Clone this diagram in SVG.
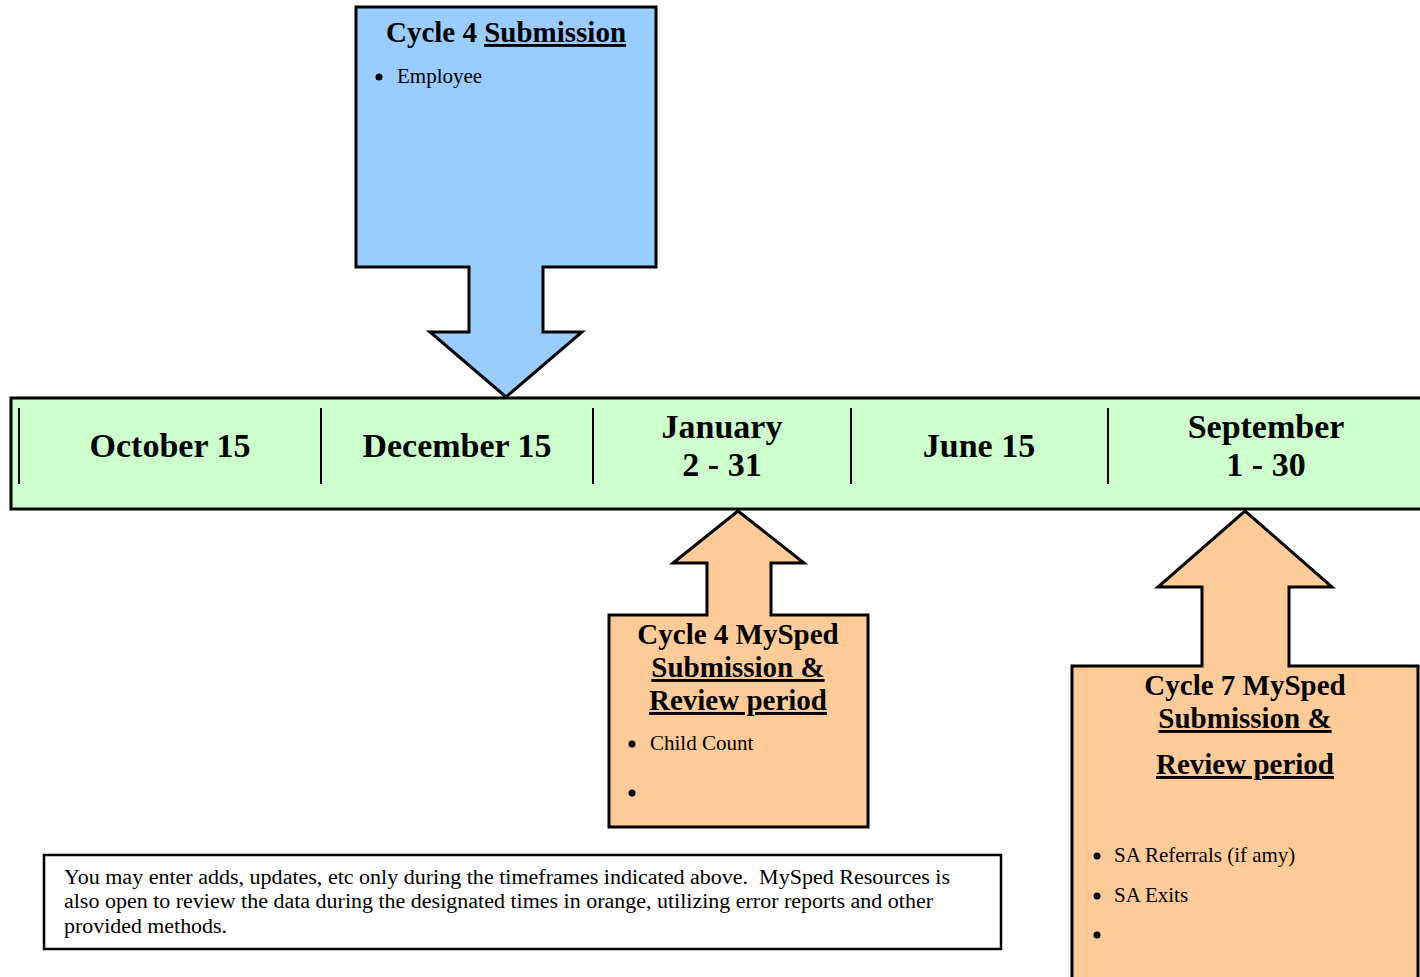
<svg xmlns="http://www.w3.org/2000/svg" width="1420" height="977" viewBox="0 0 1420 977">
<style>
.shape{stroke:#000;stroke-width:3;stroke-linejoin:miter}
.blue{fill:#99CCFF}
.orange{fill:#FFCC99}
.green{fill:#CCFFCC}
.date{font-family:"Liberation Serif","Times New Roman",serif;font-weight:bold;font-size:34px;text-anchor:middle;fill:#000}
.title{font-family:"Liberation Serif","Times New Roman",serif;font-weight:bold;font-size:29px;text-anchor:middle;fill:#000}
.u{text-decoration:underline}
.body{font-family:"Liberation Serif","Times New Roman",serif;font-size:21px;fill:#000}
.note{font-family:"Liberation Serif","Times New Roman",serif;font-size:20px;fill:#000}
.div{stroke:#000;stroke-width:2}
</style>
<rect width="1420" height="977" fill="#fff"/>
<g id="cycle4-submission">
<polygon class="shape blue" points="356,7 656,7 656,267 543,267 543,332 582,332 506,397 430,332 469,332 469,267 356,267"/>
<text class="title" x="506" y="42">Cycle 4 <tspan class="u">Submission</tspan></text>
<circle cx="379" cy="77" r="3.5"/>
<text class="body" x="397" y="83">Employee</text>
</g>
<g id="cycle4-mysped">
<polygon class="shape orange" points="609,615 707,615 707,563 673,563 738,511 804,563 771,563 771,615 868,615 868,827 609,827"/>
<text class="title" x="738" y="644">Cycle 4 MySped</text>
<text class="title u" x="738" y="677">Submission &amp;</text>
<text class="title u" x="738" y="710">Review period</text>
<circle cx="632" cy="744" r="3.5"/>
<text class="body" x="650" y="750">Child Count</text>
<circle cx="632" cy="793" r="3.5"/>
</g>
<g id="cycle7-mysped">
<polygon class="shape orange" points="1072,666 1202,666 1202,587 1158,587 1245,511 1332,587 1289,587 1289,666 1418,666 1418,990 1072,990"/>
<text class="title" x="1245" y="695">Cycle 7 MySped</text>
<text class="title u" x="1245" y="728">Submission &amp;</text>
<text class="title u" x="1245" y="774">Review period</text>
<circle cx="1097" cy="856" r="3.5"/>
<text class="body" x="1114" y="862">SA Referrals (if amy)</text>
<circle cx="1097" cy="896" r="3.5"/>
<text class="body" x="1114" y="902">SA Exits</text>
<circle cx="1097" cy="935" r="3.5"/>
</g>
<g id="timeline">
<rect class="shape green" x="11" y="398" width="1420" height="111"/>
<line class="div" x1="19" y1="408" x2="19" y2="484"/>
<line class="div" x1="321" y1="408" x2="321" y2="484"/>
<line class="div" x1="593" y1="408" x2="593" y2="484"/>
<line class="div" x1="851" y1="408" x2="851" y2="484"/>
<line class="div" x1="1108" y1="408" x2="1108" y2="484"/>
<text class="date" x="170" y="457">October 15</text>
<text class="date" x="457" y="457">December 15</text>
<text class="date" x="722" y="438">January</text>
<text class="date" x="722" y="476">2 - 31</text>
<text class="date" x="979" y="457">June 15</text>
<text class="date" x="1266" y="438">September</text>
<text class="date" x="1266" y="476">1 - 30</text>
</g>
<g id="note">
<rect x="44" y="855" width="957" height="94" fill="#fff" stroke="#000" stroke-width="2.5"/>
<text class="note" x="64" y="884" textLength="886" lengthAdjust="spacingAndGlyphs" xml:space="preserve">You may enter adds, updates, etc only during the timeframes indicated above.  MySped Resources is</text>
<text class="note" x="64" y="908" textLength="869" lengthAdjust="spacingAndGlyphs">also open to review the data during the designated times in orange, utilizing error reports and other</text>
<text class="note" x="64" y="933" textLength="163" lengthAdjust="spacingAndGlyphs">provided methods.</text>
</g>
<g id="connectors"></g>
</svg>
